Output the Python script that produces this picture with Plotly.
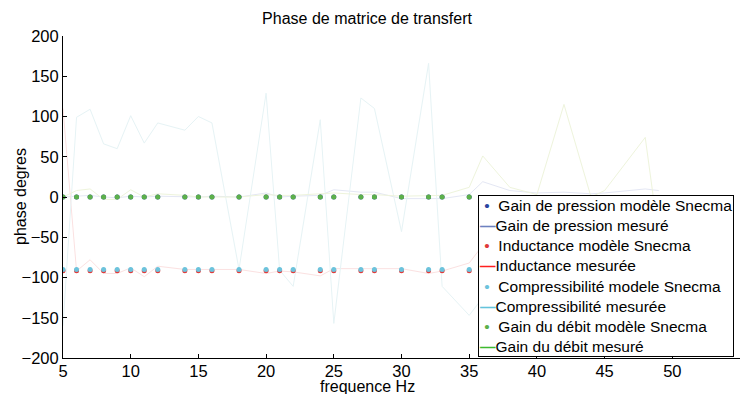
import plotly.graph_objects as go

# ---- data ----
freq_model = [5, 6, 7, 8, 9, 10, 11, 12, 14, 15, 16, 18, 20, 21, 22, 24, 25, 27, 28, 30, 32, 33, 35]
gain_pression_model = [0, 0, 0, 0, 0, 0, 0, 0, 0, 0, 0, 0, 0, 0, 0, 0, 0, 0, 0, 0, 0, 0, 0]
inductance_model = [-91.5, -91.5, -91.5, -91.5, -91.5, -91.5, -91.5, -91.5, -91.5, -91.5, -91.5, -91.5,
                    -91.5, -91.5, -91.5, -91.5, -91.5, -91.5, -91.5, -91.5, -91.5, -91.5, -91.5]
compress_model = [-90, -90, -90, -90, -90, -90, -90, -90, -90, -90, -90, -90,
                  -90, -90, -90, -90, -90, -90, -90, -90, -90, -90, -90]
gain_debit_model = [0, 0, 0, 0, 0, 0, 0, 0, 0, 0, 0, 0, 0, 0, 0, 0, 0, 0, 0, 0, 0, 0, 0]

freq_meas = [5, 6, 7, 8, 9, 10, 11, 12, 14, 15, 16, 18, 20, 21, 22, 24, 25, 27, 28, 30, 32, 33, 35,
             36, 38, 40, 42, 44, 45, 48, 49]
gain_pression_meas = [0, 1, 2, 0, -1, 1, 0, 1, 0, 0, 1, 0, 5, 0, 1, 2, 9, 6, 6, -2, -2, -2, 3,
                      19, 8, 5, 6, 4, 5, 10, 8]
inductance_meas = [110, -92, -78, -95, -95, -88, -99, -86, -90, -90, -90, -90, -95, -92, -93, -98, -89,
                   -89, -89, -89, -95, -92, -82, -60, -80, -90, -85, -95, -90, -88, -92]
compress_meas = [-160, 99, 109, 66, 60, 101, 67, 92, 83, 100, 92, -90, 129, -91, -111, 96, -157, 123,
                 110, -43, 166, -111, -147, -125, -60, -90, -40, -100, -80, -90, -120]
gain_debit_meas = [0, 8, 10, -3, -3, 9, 0, 4, 2, 0, 0, 0, 3, 2, 2, 4, 5, 3, 3, 1, 2, 2, 12,
                   51, 12, 3, 115, 0, 8, 74, -50]

names = ["Gain de pression modèle Snecma", "Gain de pression mesuré",
         "Inductance modèle Snecma", "Inductance mesurée",
         "Compressibilité modele Snecma", "Compressibilité mesurée",
         "Gain du débit modèle Snecma", "Gain du débit mesuré"]

FONT = "Liberation Sans, Arial, sans-serif"

fig = go.Figure()

# measured lines (faint in the plot)
faint = ["#e4e7f4", "#fbe1e1", "#e6f3f5", "#eef4dc"]
meas = [gain_pression_meas, inductance_meas, compress_meas, gain_debit_meas]
for i, (ys, c) in enumerate(zip(meas, faint)):
    fig.add_trace(go.Scatter(x=freq_meas, y=ys, mode="lines", name=names[2 * i + 1],
                             line=dict(color=c, width=1), showlegend=False))

# model markers
mcol = ["#2a45a0", "#e03a3a", "#6cc3dc", "#5cb04a"]
models = [gain_pression_model, inductance_model, compress_model, gain_debit_model]
for i, (ys, c) in enumerate(zip(models, mcol)):
    fig.add_trace(go.Scatter(x=freq_model, y=ys, mode="markers", name=names[2 * i],
                             marker=dict(color=c, size=5, symbol="circle"),
                             showlegend=False))

# legend box (drawn as one text block so its row spacing matches the original)
lcol = ["#6d82c0", "#ff2020", "#64c4dc", "#3cbb30"]
rows = []
for i in range(4):
    rows.append(f'<span style="color:{mcol[i]}">&nbsp;•&nbsp;&nbsp;</span>{names[2 * i]}')
    rows.append(f'<span style="color:{lcol[i]}"><b>—</b></span>{names[2 * i + 1]}')
legend_text = "<br>".join(rows)

fig.update_layout(
    width=740, height=394,
    margin=dict(l=63, r=0, t=36, b=36, autoexpand=False),
    paper_bgcolor="white", plot_bgcolor="white",
    font=dict(family=FONT, color="black", size=16),
    title=dict(text="Phase de matrice de transfert", x=0.496, xanchor="center",
               y=1 - 18 / 394, yanchor="middle", xref="container", yref="container",
               font=dict(size=16)),
    showlegend=False,
    annotations=[
        dict(text="frequence Hz", xref="paper", yref="paper", x=(367 - 63) / 677,
             y=(358 - 386.5) / 322, xanchor="center", yanchor="middle", showarrow=False,
             font=dict(size=16)),
        dict(text="phase degres", xref="paper", yref="paper", x=(20 - 63) / 677, y=0.5,
             xanchor="center", yanchor="middle", textangle=-90, showarrow=False,
             font=dict(size=16)),
        dict(text=legend_text, xref="paper", yref="paper", x=(478 - 63) / 677,
             y=(358 - 195) / 322, xanchor="left", yanchor="top", align="left",
             showarrow=False, bgcolor="white", bordercolor="black", borderwidth=1,
             borderpad=1, font=dict(size=15.5)),
    ],
)
fig.update_xaxes(range=[5, 55], tickvals=[5, 10, 15, 20, 25, 30, 35, 40, 45, 50],
                 showline=True, linecolor="black", linewidth=1, ticks="inside",
                 ticklen=4, tickcolor="black", showgrid=False, zeroline=False,
                 automargin=False, tickfont=dict(size=16.5), ticklabelstandoff=-2)
fig.update_yaxes(range=[-200, 200], tickvals=[-200, -150, -100, -50, 0, 50, 100, 150, 200],
                 showline=True, linecolor="black", linewidth=1, ticks="inside",
                 ticklen=4, tickcolor="black", showgrid=False, zeroline=False,
                 automargin=False, tickfont=dict(size=16.5))

fig.write_html("out.html", config={"displayModeBar": False},
               post_script="document.body.style.margin='0';document.body.style.overflow='hidden';")
